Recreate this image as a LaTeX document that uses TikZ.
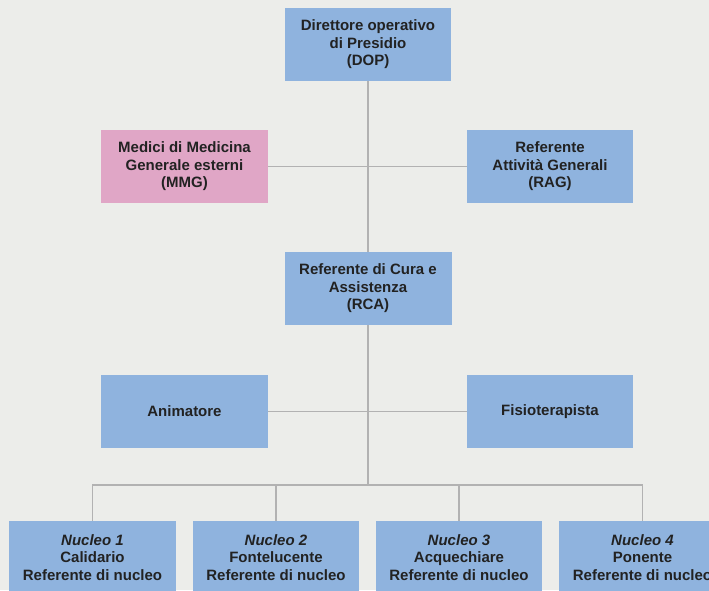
\documentclass[tikz,border=0pt]{standalone}
\usepackage{fontspec}
\setmainfont{Liberation Sans}
\definecolor{bgc}{HTML}{ECEDEA}
\definecolor{boxblue}{HTML}{8FB3DE}
\definecolor{boxpink}{HTML}{E0A6C6}
\definecolor{linec}{HTML}{B2B2B2}
\definecolor{txt}{HTML}{222222}
\tikzset{
  orgbox/.style={fill=boxblue, draw=none, minimum width=166pt, minimum height=73pt,
    align=center, text=txt, inner sep=0pt,
    font=\fontsize{15}{17.5}\selectfont\bfseries},
  pinkbox/.style={orgbox, fill=boxpink},
  conn/.style={draw=linec, line width=1.4pt}
}
\begin{document}
\begin{tikzpicture}[x=1pt,y=-1pt]
\clip (0,0) rectangle (709,590);
\useasboundingbox (0,0) rectangle (709,590);
\fill[bgc] (0,0) rectangle (709,590);
\node[orgbox] (dop) at (368,44.5) {Direttore operativo\\di Presidio\\(DOP)};
\node[pinkbox, minimum width=167pt] (mmg) at (184.5,166.5) {Medici di Medicina\\Generale esterni\\(MMG)};
\node[orgbox] (rag) at (550,166.5) {Referente\\Attività Generali\\(RAG)};
\node[orgbox, minimum width=167pt] (rca) at (368,288.5) {Referente di Cura e\\Assistenza\\(RCA)};
\node[orgbox, minimum width=167pt] (anim) at (184.5,411.5) {Animatore};
\node[orgbox] (fisio) at (550,411.5) {Fisioterapista};
\node[orgbox, minimum width=167pt] (n1) at (92.5,557.5) {\textit{Nucleo 1}\\Calidario\\Referente di nucleo};
\node[orgbox] (n2) at (276,557.5) {\textit{Nucleo 2}\\Fontelucente\\Referente di nucleo};
\node[orgbox] (n3) at (459,557.5) {\textit{Nucleo 3}\\Acquechiare\\Referente di nucleo};
\node[orgbox, minimum width=167pt] (n4) at (642.5,557.5) {\textit{Nucleo 4}\\Ponente\\Referente di nucleo};
\coordinate (bus) at (368,485);
\draw[conn] (dop.south) -- (rca.north);
\draw[conn] (mmg.east) -- (rag.west);
\draw[conn] (anim.east) -- (fisio.west);
\draw[conn] (rca.south) -- (rca.south |- bus);
\draw[conn] (n1.north) -- (n1.north |- bus) -| (n4.north);
\draw[conn] (n2.north) -- (n2.north |- bus);
\draw[conn] (n3.north) -- (n3.north |- bus);
\end{tikzpicture}
\end{document}
